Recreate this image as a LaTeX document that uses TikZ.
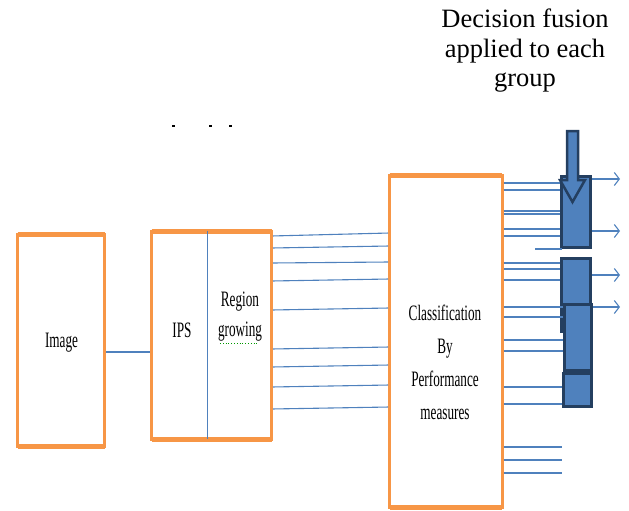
\documentclass[tikz,border=0pt]{standalone}
\usepackage{fontspec}
\setmainfont{Liberation Serif}
\newfontfamily\condfont[FakeStretch=0.6]{Liberation Serif}
\newfontfamily\topfont{Liberation Serif}
\usetikzlibrary{arrows.meta}
\definecolor{boxorange}{HTML}{F79646}
\definecolor{linkblue}{HTML}{4F81BD}
\definecolor{blockfill}{HTML}{4F81BD}
\definecolor{blockedge}{HTML}{243F60}
\begin{document}
\begin{tikzpicture}[x=1pt,y=-1pt,
  obox/.style={draw=boxorange, line width=3pt, fill=white, inner sep=0pt, outer sep=0pt},
  thickedge/.style={draw=boxorange, line width=5pt},
  link/.style={draw=linkblue, line width=1.1pt},
  blk/.style={draw=blockedge, fill=blockfill, line width=3pt, inner sep=0pt, outer sep=0pt},
  outarrow/.style={link, -{Straight Barb[length=5pt,width=13pt]}},
  condtext/.style={font=\condfont\fontsize{22}{26}\selectfont, inner sep=0pt},
  toptext/.style={font=\topfont\fontsize{26.5}{29.5}\selectfont, inner sep=0pt, align=center}]
\useasboundingbox (0,0) rectangle (629,511);

% boxes
\node[obox, minimum width=87pt, minimum height=212pt] (img) at (61,340) {};
\draw[thickedge] (img.north west) -- (img.north east);
\draw[thickedge] (img.south west) -- (img.south east);

\node[obox, minimum width=120pt, minimum height=208pt] (ips) at (211.5,335) {};
\draw[thickedge] (ips.north west) -- (ips.north east);
\draw[thickedge] (ips.south west) -- (ips.south east);
\draw[linkblue, line width=0.8pt] (ips.north -| 207,0) -- (ips.south -| 207,0);

\node[obox, minimum width=112.5pt, minimum height=332pt] (cls) at (445.75,341) {};
\draw[thickedge] (cls.north west) -- (cls.north east);
\draw[thickedge] (cls.south west) -- (cls.south east);

% texts
\node[condtext, anchor=base] (imgtxt) at (61.5,347) {Image};
\node[condtext, anchor=base] (ipstxt) at (182,337) {IPS};
\node[condtext, anchor=north, align=center, font=\condfont\fontsize{22}{30}\selectfont] (rgtxt) at (240,292) {Region\\growing};
\draw[green!60!black, line width=0.8pt, dotted] (220,343) -- (258,343);
\node[condtext, anchor=north, align=center, font=\condfont\fontsize{22}{33}\selectfont] (clstxt) at (445,305) {Classification\\By\\Performance\\measures};
\node[toptext, anchor=north] (fusetxt) at (525,8.9) {Decision fusion\\applied to each\\group};

% stray marks
\draw[black, line width=1.2pt] (172,126) -- (175,126);
\draw[black, line width=1.2pt] (209,126) -- (212,126);
\draw[black, line width=1.2pt] (229,126) -- (232,126);

% image -> ips
\draw[link, shorten <=1.5pt, shorten >=1.5pt] (img.east |- 0,352) -- (ips.west |- 0,352);

% ips -> classification
\foreach \a/\b in {236/233, 248/246, 263/262, 281/279, 310/308, 349/347, 367/365, 387/385, 409/407}
  \draw[link, shorten <=1.5pt, shorten >=1.5pt] (ips.east |- 0,\a) -- (cls.west |- 0,\b);

% fusion blocks
\node[blk, minimum width=29pt, minimum height=71pt] (blkA) at (576,212) {};
\node[blk, minimum width=29pt, minimum height=73pt] (blkB) at (576,295) {};
\node[blk, minimum width=28pt, minimum height=33pt] (blkD) at (577.5,390) {};
\node[blk, minimum width=27pt, minimum height=66pt] (blkC) at (578,337.5) {};

% classification -> blocks
\foreach \y in {183,190,211,214,229,236}
  \draw[link, shorten <=1.5pt, shorten >=1.5pt] (cls.east |- 0,\y) -- (blkA.west |- 0,\y);
\coordinate (shortstart) at (535,249);
\draw[link] (shortstart) -- (blkA.west |- 0,249);
\foreach \y in {263,269,280}
  \draw[link, shorten <=1.5pt, shorten >=1.5pt] (cls.east |- 0,\y) -- (blkB.west |- 0,\y);
\foreach \y in {307,317,340,351}
  \draw[link, shorten <=1.5pt, shorten >=1.5pt] (cls.east |- 0,\y) -- (blkC.west |- 0,\y);
\foreach \y in {387,404}
  \draw[link, shorten <=1.5pt, shorten >=1.5pt] (cls.east |- 0,\y) -- (blkD.west |- 0,\y);
\foreach \y/\n in {447/e1,460/e2,473/e3}{
  \coordinate (\n) at (562,\y);
  \draw[link, shorten <=1.5pt] (cls.east |- \n) -- (\n);
}

% decision arrow
\draw[draw=blockedge, fill=blockfill, line width=2.5pt, line join=miter]
  (567,131) -- (578,131) -- (578,180) -- (585,180) -- (572.5,202) -- (560,180) -- (567,180) -- cycle;

% outputs
\coordinate (o1) at (620,179);
\coordinate (o2) at (620,231);
\coordinate (o3) at (620,275);
\coordinate (o4) at (620,307);
\draw[outarrow, shorten <=1.5pt] (blkA.east |- o1) -- (o1);
\draw[outarrow, shorten <=1.5pt] (blkA.east |- o2) -- (o2);
\draw[outarrow, shorten <=1.5pt] (blkB.east |- o3) -- (o3);
\draw[outarrow, shorten <=1.5pt] (blkC.east |- o4) -- (o4);
\end{tikzpicture}
\end{document}
